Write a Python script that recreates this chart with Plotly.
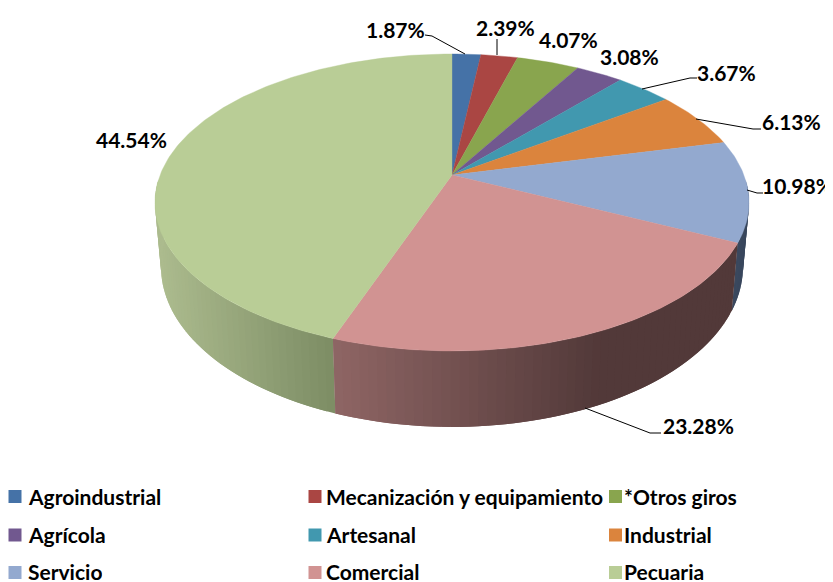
import numpy as np
import plotly.graph_objects as go

categories = ["Agroindustrial", "Mecanización y equipamiento", "*Otros giros", "Agrícola",
              "Artesanal", "Industrial", "Servicio", "Comercial", "Pecuaria"]
values = [1.87, 2.39, 4.07, 3.08, 3.67, 6.13, 10.98, 23.28, 44.54]
colors = ["#4572A7", "#AA4643", "#89A54E", "#71588F", "#4198AF", "#DB843D", "#93A9CF", "#D19392", "#B9CD96"]

W, H = 833, 582
PAGE_MARGIN = 8  # the page's own body margin
FONT = "Lato"
FS = 21
K = 0.185
TOP = dict(cx=452, cy=175, a=291.9, b=143.4)
BOT = dict(cx=452, cy=237, a=286.0, b=154.8)


def project(theta_deg, disc):
    t = np.radians(theta_deg)
    u, v = np.sin(t), np.cos(t)
    w = 1 + K * v
    return disc["cx"] + disc["a"] * u / w, disc["cy"] - disc["b"] * v / w


cum = np.concatenate([[0], np.cumsum(values)]) / sum(values) * 360
fig = go.Figure()

# gradient of the side wall: (x at start, colour), (x at end, colour)
side_grad = {
    6: ((700, (66, 80, 102)), (749, (56, 70, 92))),
    7: ((335, (142, 101, 100)), (600, (82, 57, 57))),
    8: ((335, (124, 140, 100)), (158, (172, 187, 142))),
}


def side_colour(i, x):
    (x0, c0), (x1, c1) = side_grad[i]
    f = np.clip((x - x0) / (x1 - x0), 0, 1)
    return "rgb(%d,%d,%d)" % tuple(int(round(a + (b - a) * f)) for a, b in zip(c0, c1))


# side wall, in narrow overlapping strips so that it shades across the slice
for i in (6, 8, 7):
    start, end = max(cum[i], 92), min(cum[i + 1], 268)
    if start >= end:
        continue
    edges = np.linspace(start, end, int((end - start) / 1.5) + 2)
    step = edges[1] - edges[0]
    for t0 in edges[:-1]:
        t1 = min(t0 + 2 * step, end)
        arc = np.linspace(t0, t1, 4)
        xt, yt = project(arc, TOP)
        xb, yb = project(arc[::-1], BOT)
        col = side_colour(i, project(t0 + step / 2, TOP)[0])
        fig.add_trace(go.Scatter(x=np.r_[xt, xb, xt[0]], y=np.r_[yt, yb, yt[0]], mode="lines",
                                 fill="toself", fillcolor=col, line=dict(width=0),
                                 hoverinfo="skip", showlegend=False))

# top face
for i, name in enumerate(categories):
    arc = np.linspace(cum[i], cum[i + 1], max(int(values[i] * 4), 6))
    xs, ys = project(arc, TOP)
    fig.add_trace(go.Scatter(x=np.r_[TOP["cx"], xs, TOP["cx"]], y=np.r_[TOP["cy"], ys, TOP["cy"]],
                             mode="lines", fill="toself", fillcolor=colors[i],
                             line=dict(color=colors[i], width=0.4), name=name,
                             text=f"{name}: {values[i]:.2f}%", hoverinfo="text", showlegend=False))

# data labels
label_xy = [(395, 29), (505, 27), (568, 39), (629, 56), (726, 72), (791, 121), (797, 185), (698, 425), (131, 139)]
for v, (x, y) in zip(values, label_xy):
    fig.add_annotation(x=x, y=y, text=f"<b>{v:.2f}%</b>", showarrow=False,
                       font=dict(family=FONT, size=FS, color="#000000"))

# leader lines
leaders = [
    [(465, 54), (432, 36), (425, 35)],
    [(497, 55), (497, 39)],
    [(642, 89), (690, 78), (697, 78)],
    [(696, 119), (753, 129), (761, 129)],
    [(747, 190), (757, 193), (763, 193)],
    [(585, 408), (650, 433), (661, 433)],
]
for pts in leaders:
    fig.add_trace(go.Scatter(x=[p[0] for p in pts], y=[p[1] for p in pts], mode="lines",
                             line=dict(color="#000000", width=1), hoverinfo="skip", showlegend=False))

# legend
col_swatch = [15, 315, 615.5]
col_text = [26, 324, 622]
row_text_y = [496, 534, 571]
row_text_h = [None, None, 20]  # last row sits on the picture's bottom edge
row_swatch_y = [496.5, 535, 572.5]
for i, name in enumerate(categories):
    r, c = divmod(i, 3)
    fig.add_trace(go.Scatter(x=[col_swatch[c]], y=[row_swatch_y[r]], mode="markers",
                             marker=dict(symbol="square", size=13, color=colors[i], line=dict(width=0)),
                             hoverinfo="skip", showlegend=False))
    fig.add_annotation(x=col_text[c], y=row_text_y[r], text=f"<b>{name}</b>", showarrow=False,
                       xanchor="left", height=row_text_h[r], font=dict(family=FONT, size=FS, color="#000000"))

fig.update_layout(width=W - PAGE_MARGIN, height=H - PAGE_MARGIN, margin=dict(l=0, r=0, t=0, b=0),
                  paper_bgcolor="white", plot_bgcolor="white", showlegend=False,
                  xaxis=dict(range=[PAGE_MARGIN, W], visible=False, fixedrange=True),
                  yaxis=dict(range=[H, PAGE_MARGIN], visible=False, fixedrange=True))
fig.write_html("out.html", config=dict(displayModeBar=False))
